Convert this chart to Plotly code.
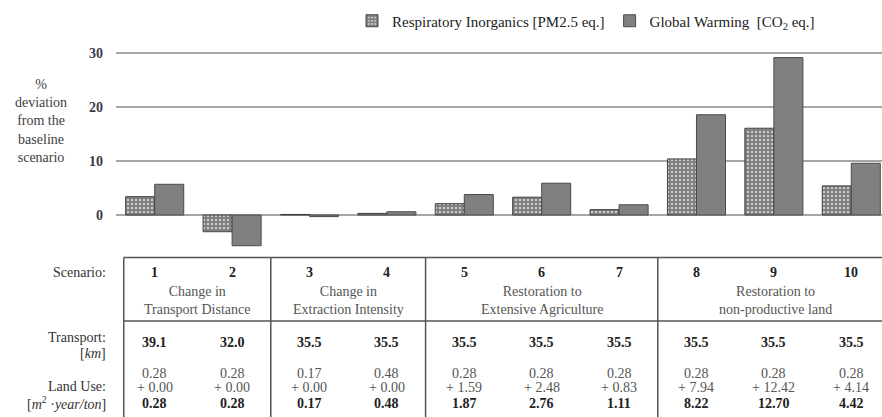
import plotly.graph_objects as go

# ---------------- data ----------------
scenarios = ["1", "2", "3", "4", "5", "6", "7", "8", "9", "10"]
resp_inorganics = [3.4, -3.1, 0.1, 0.3, 2.1, 3.3, 1.0, 10.4, 16.1, 5.4]
global_warming = [5.7, -5.7, -0.3, 0.6, 3.8, 5.9, 1.9, 18.6, 29.2, 9.6]
transport_km = ["39.1", "32.0", "35.5", "35.5", "35.5", "35.5", "35.5", "35.5", "35.5", "35.5"]
land_base = ["0.28", "0.28", "0.17", "0.48", "0.28", "0.28", "0.28", "0.28", "0.28", "0.28"]
land_added = ["0.00", "0.00", "0.00", "0.00", "1.59", "2.48", "0.83", "7.94", "12.42", "4.14"]
land_total = ["0.28", "0.28", "0.17", "0.48", "1.87", "2.76", "1.11", "8.22", "12.70", "4.42"]
group_labels = ["Change in<br>Transport Distance", "Change in<br>Extraction Intensity",
                "Restoration to<br>Extensive Agriculture", "Restoration to<br>non-productive land"]
y_ticks = [0, 10, 20, 30]

# ---------------- layout helpers ----------------
W, H = 882, 417
ML = 116
FONT = "Liberation Serif"
xs = list(range(len(scenarios)))
x_lo, x_hi = -0.5, 9.397


def py(p):
    """pixel row -> paper y"""
    return 1 - p / H


def px(p):
    """pixel column -> paper x"""
    return (p - ML) / (W - ML)


fig = go.Figure()
fig.add_bar(
    x=xs, y=resp_inorganics, name="Respiratory Inorganics [PM2.5 eq.]",
    marker=dict(color="white", line=dict(color="#404040", width=1),
                pattern=dict(shape=".", fgcolor="#000000", bgcolor="white", size=4, solidity=0.8)),
)
fig.add_bar(
    x=xs, y=global_warming, name="Global Warming  [CO<sub>2</sub> eq.]",
    marker=dict(color="#808080", line=dict(color="#4a4a4a", width=1)),
)

ann = []
# y-axis title
ann.append(dict(x=px(41), xref="paper", y=py(121), yref="paper", xanchor="center", yanchor="middle",
                text="%<br>deviation<br>from the<br>baseline<br>scenario", showarrow=False,
                font=dict(family=FONT, size=14, color="#404040")))
# row labels
row_label_font = dict(family=FONT, size=14, color="#333333")
for txt, yp in [("Scenario:", 272), ("Transport:", 337), ("[<i>km</i>]", 353),
                ("Land Use:", 386), ("[<i>m</i><sup>2</sup> ·<i>year/ton</i>]", 403)]:
    ann.append(dict(x=px(108), xref="paper", y=py(yp), yref="paper", xanchor="right", yanchor="middle",
                    text=txt, showarrow=False, font=row_label_font))
# per-scenario cells
bold = dict(family=FONT, size=14, color="#222222", weight="bold")
plain = dict(family=FONT, size=14, color="#555555")
for i, s in enumerate(scenarios):
    for txt, yp, f in [(s, 272, bold), (transport_km[i], 342, bold), (land_base[i], 373, plain),
                       ("+ " + land_added[i], 387, plain), (land_total[i], 403, bold)]:
        ann.append(dict(x=xs[i], xref="x", y=py(yp), yref="paper", xanchor="center", yanchor="middle",
                        text=txt, showarrow=False, font=f))
# group labels and table lines
left_edge = -0.4
bounds = [left_edge, 1.5, 3.5, 6.5, 9.53]
shapes = []
for g, lab in enumerate(group_labels):
    cx = (bounds[g] + bounds[g + 1]) / 2
    ann.append(dict(x=cx, xref="x", y=py(300), yref="paper", xanchor="center", yanchor="middle",
                    text=lab, showarrow=False, font=plain))
line_style = dict(color="#555555", width=1.5)
for b in bounds[:-1]:
    shapes.append(dict(type="line", xref="x", yref="paper", x0=b, x1=b, y0=py(257.5), y1=0,
                       line=line_style))
for hp in [257.5, 321]:
    shapes.append(dict(type="line", xref="x", yref="paper", x0=left_edge, x1=x_hi, y0=py(hp), y1=py(hp),
                       line=line_style))

fig.update_layout(
    width=W, height=H,
    margin=dict(l=ML, r=0, t=0, b=0),
    paper_bgcolor="white", plot_bgcolor="white",
    barmode="group", bargap=0.25, bargroupgap=0,
    font=dict(family=FONT, size=14, color="#222222"),
    showlegend=True,
    legend=dict(orientation="h", x=px(352), xanchor="left", y=py(21), yanchor="middle",
                font=dict(family=FONT, size=15, color="#222222"), itemwidth=30,
                bgcolor="rgba(0,0,0,0)", tracegroupgap=0),
    xaxis=dict(range=[x_lo, x_hi], showticklabels=False, showgrid=False, zeroline=False, ticks=""),
    yaxis=dict(range=[-(H - 215) / 5.39, 30 + 53.3 / 5.39], tickvals=y_ticks,
               showgrid=True, gridcolor="#a6a6a6", gridwidth=1.5,
               zeroline=True, zerolinecolor="#a6a6a6", zerolinewidth=1.5,
               ticks="", ticklabelstandoff=12,
               tickfont=dict(family=FONT, size=14, color="#3a3a4a", weight="bold")),
    annotations=ann, shapes=shapes,
)

fig.write_html("out.html", config={"displayModeBar": False},
               post_script="document.body.style.margin='0';")
